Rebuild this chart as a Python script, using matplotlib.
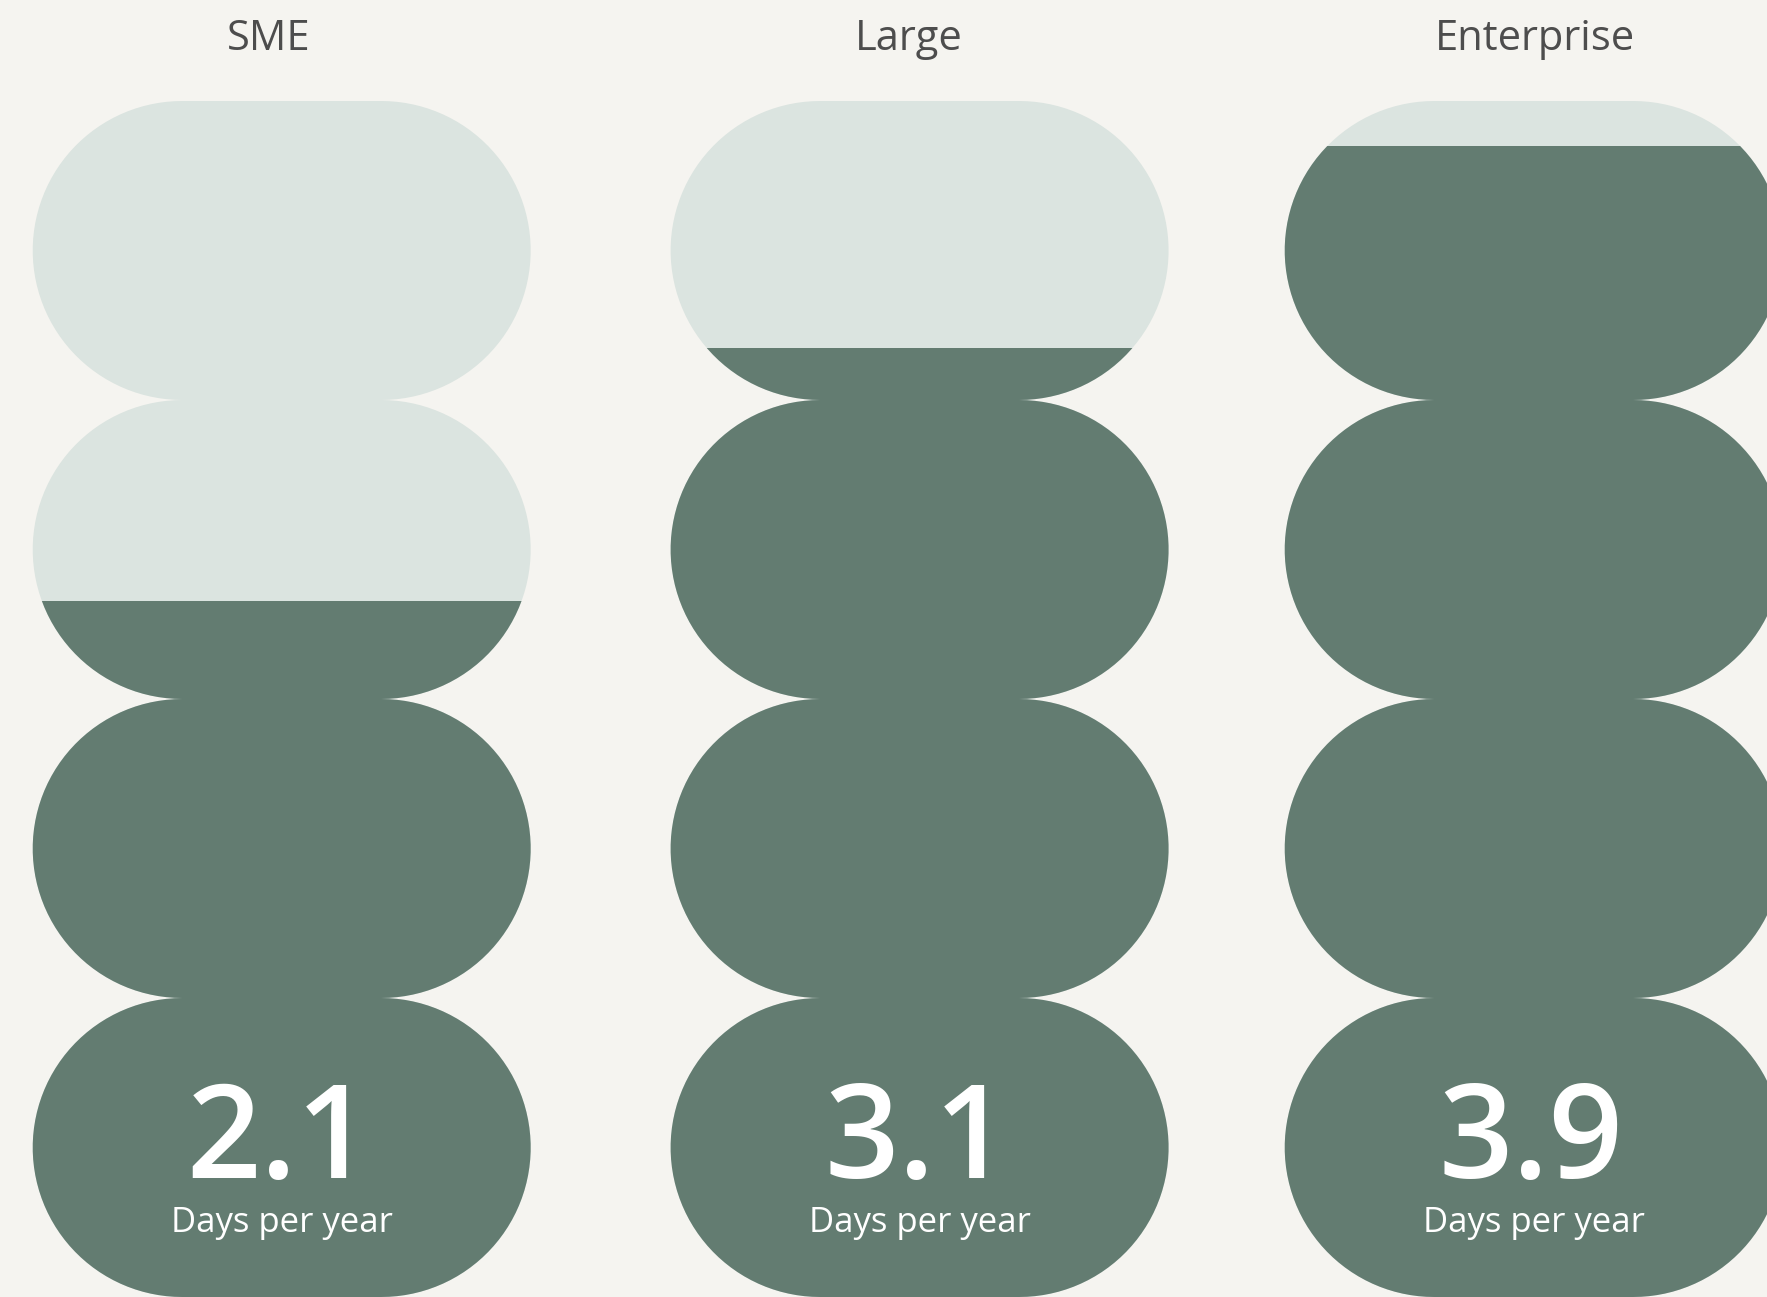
import numpy as np
import matplotlib.pyplot as plt
from matplotlib.path import Path
from matplotlib.patches import PathPatch

# Datos
segmentos = ['SME', 'Large', 'Enterprise']
dias = [2.1, 3.1, 3.9]
etiqueta = 'Days per year'

# Colores
fondo = '#f5f4f0'
claro = '#dbe4e0'
oscuro = '#637c71'
gris = '#4d4d4d'

plt.rcParams['font.family'] = ['Open Sans', 'DejaVu Sans']

W, H = 1767, 1297
fig = plt.figure(figsize=(W / 100, H / 100), dpi=100, facecolor=fondo)
ax = fig.add_axes([0, 0, 1, 1])
ax.set_facecolor(fondo)

# eje y en días, eje x en píxeles
y_min, y_max = -0.654, 4.476
ax.set_xlim(0, W)
ax.set_ylim(y_min, y_max)
ax.axis('off')
px_dia = H / (y_max - y_min)   # píxeles por día

centros = [281.7, 919.6, 1533.7]
titulo_x = [268.3, 908.5, 1534.5]
ancho = 498.0
alto_px = 299.0
n_pildoras = 4
tope = y_max - 101 / px_dia
alto = alto_px / px_dia


def pildora(cx, y0, y1):
    # cápsula con extremos redondos (radio = medio alto)
    r = alto_px / 2
    ry = (y1 - y0) / 2
    cy = (y0 + y1) / 2
    t = np.linspace(-np.pi / 2, np.pi / 2, 60)
    der = np.column_stack([cx + ancho / 2 - r + r * np.cos(t), cy + ry * np.sin(t)])
    t2 = np.linspace(np.pi / 2, 3 * np.pi / 2, 60)
    izq = np.column_stack([cx - ancho / 2 + r + r * np.cos(t2), cy + ry * np.sin(t2)])
    pts = np.vstack([der, izq, der[:1]])
    codes = [Path.MOVETO] + [Path.LINETO] * (len(pts) - 2) + [Path.CLOSEPOLY]
    return pts, codes


for i, seg in enumerate(segmentos):
    cx = centros[i]
    verts, codes = [], []
    for k in range(n_pildoras):
        y1 = tope - k * alto
        p, c = pildora(cx, y1 - alto, y1)
        verts.append(p)
        codes += c
    camino = Path(np.vstack(verts), codes)
    forma = PathPatch(camino, facecolor=claro, edgecolor='none', transform=ax.transData)
    ax.add_patch(forma)

    base = tope - n_pildoras * alto
    barras = ax.bar(cx, dias[i] - base, bottom=base, width=ancho + 4,
                    color=oscuro, linewidth=0)
    for b in barras:
        b.set_clip_path(forma)

    ax.text(titulo_x[i], y_max - 49.5 / px_dia, seg, ha='center', va='baseline',
            fontsize=30, color=gris)
    ax.text(cx - 3, y_max - 1178 / px_dia, f'{dias[i]:.1f}', ha='center',
            va='baseline', fontsize=94, fontweight='semibold', color='white')
    ax.text(cx, y_max - 1232 / px_dia, etiqueta, ha='center', va='baseline',
            fontsize=25, color='white')

fig.savefig('out.png', dpi=100, facecolor=fondo)
